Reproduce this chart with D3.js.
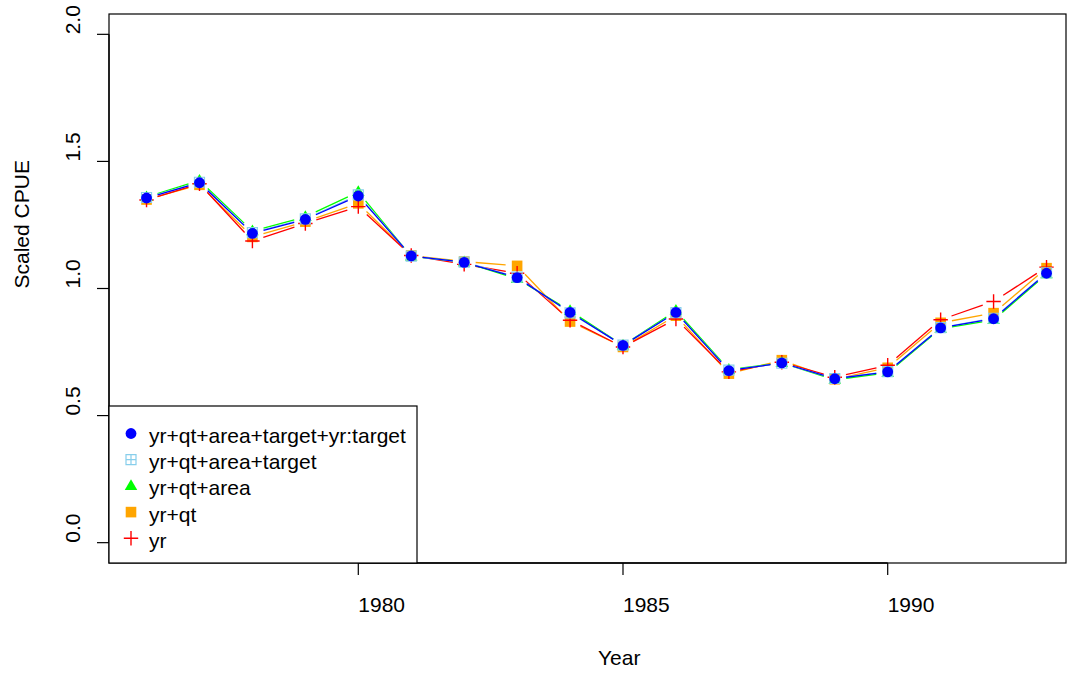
<!DOCTYPE html>
<html>
<head>
<meta charset="utf-8">
<script src="https://cdn.jsdelivr.net/npm/d3@7"></script>
<style>
  html, body { margin: 0; padding: 0; background: #fff; }
  svg { display: block; }
  text { font-family: "Liberation Sans", Arial, Helvetica, sans-serif; fill: #000; }
</style>
</head>
<body>
<svg id="chart" width="1077" height="674"></svg>
<script>
// Years of the standardised index
const years = [1976, 1977, 1978, 1979, 1980, 1981, 1982, 1983, 1984,
               1985, 1986, 1987, 1988, 1989, 1990, 1991, 1992, 1993];

// Scaled CPUE for each model formulation
const cpueFull   = [1.356, 1.416, 1.217, 1.272, 1.364, 1.128, 1.103, 1.043, 0.906,
                    0.776, 0.906, 0.677, 0.707, 0.645, 0.672, 0.845, 0.881, 1.060];
const cpueTarget = [1.358, 1.418, 1.220, 1.274, 1.368, 1.127, 1.104, 1.045, 0.904,
                    0.777, 0.905, 0.679, 0.706, 0.646, 0.673, 0.846, 0.883, 1.062];
const cpueArea   = [1.360, 1.425, 1.226, 1.282, 1.380, 1.126, 1.104, 1.038, 0.912,
                    0.776, 0.913, 0.681, 0.707, 0.641, 0.668, 0.842, 0.876, 1.056];
const cpueQt     = [1.350, 1.408, 1.203, 1.263, 1.335, 1.130, 1.106, 1.089, 0.870,
                    0.770, 0.893, 0.665, 0.718, 0.643, 0.688, 0.865, 0.903, 1.080];
const cpueYr     = [1.348, 1.412, 1.187, 1.256, 1.322, 1.130, 1.095, 1.060, 0.875,
                    0.770, 0.880, 0.672, 0.710, 0.651, 0.698, 0.877, 0.949, 1.084];

const seriesNames = ["yr+qt+area+target+yr:target", "yr+qt+area+target",
                     "yr+qt+area", "yr+qt", "yr"];
const xTicks = [1980, 1985, 1990];
const yTicks = [0.0, 0.5, 1.0, 1.5, 2.0];

// Series styling: colour and plotting symbol
const series = [
  { name: seriesNames[0], values: cpueFull,   color: "#0000FF", shape: "circle" },
  { name: seriesNames[1], values: cpueTarget, color: "#87CEEB", shape: "boxplus" },
  { name: seriesNames[2], values: cpueArea,   color: "#00FF00", shape: "triangle" },
  { name: seriesNames[3], values: cpueQt,     color: "#FFA500", shape: "square" },
  { name: seriesNames[4], values: cpueYr,     color: "#FF0000", shape: "plus" }
];
// back-to-front drawing order
const drawOrder = [3, 4, 2, 1, 0];

const svg = d3.select("#chart");
const box = { left: 109, right: 1066, top: 14, bottom: 563 };

const x = d3.scaleLinear().domain([1975.291, 1993.368]).range([box.left, box.right]);
const y = d3.scaleLinear().domain([-0.08, 2.08]).range([box.bottom, box.top]);

// Symbol drawing
function drawSymbol(g, shape, color, cx, cy) {
  if (shape === "circle") {
    g.append("circle").attr("cx", cx).attr("cy", cy).attr("r", 5.4).attr("fill", color);
  } else if (shape === "square") {
    g.append("rect").attr("x", cx - 5.3).attr("y", cy - 5.3)
      .attr("width", 10.6).attr("height", 10.6).attr("fill", color);
  } else if (shape === "triangle") {
    const r = 6.6;
    g.append("path")
      .attr("d", `M${cx},${cy - r}L${cx + r * 0.95},${cy + r * 0.62}L${cx - r * 0.95},${cy + r * 0.62}Z`)
      .attr("fill", color);
  } else if (shape === "plus") {
    const r = 7.2;
    g.append("path")
      .attr("d", `M${cx - r},${cy}H${cx + r}M${cx},${cy - r}V${cy + r}`)
      .attr("stroke", color).attr("stroke-width", 1.4).attr("fill", "none");
  } else if (shape === "boxplus") {
    const r = 5;
    g.append("path")
      .attr("d", `M${cx - r},${cy - r}h${2 * r}v${2 * r}h${-2 * r}Z` +
                 `M${cx - r},${cy}H${cx + r}M${cx},${cy - r}V${cy + r}`)
      .attr("stroke", color).attr("stroke-width", 1.2).attr("fill", "none");
  }
}

// Lines with gaps around the points, then the points themselves
const gap = 11.5;
const plotG = svg.append("g");
drawOrder.forEach(i => {
  const s = series[i];
  const g = plotG.append("g");
  const pts = years.map((yr, k) => [x(yr), y(s.values[k])]);
  for (let k = 0; k < pts.length - 1; k++) {
    const [x0, y0] = pts[k], [x1, y1] = pts[k + 1];
    const dx = x1 - x0, dy = y1 - y0, len = Math.hypot(dx, dy);
    if (len <= 2 * gap) continue;
    const ux = dx / len, uy = dy / len;
    g.append("line")
      .attr("x1", x0 + ux * gap).attr("y1", y0 + uy * gap)
      .attr("x2", x1 - ux * gap).attr("y2", y1 - uy * gap)
      .attr("stroke", s.color).attr("stroke-width", 1.3);
  }
  pts.forEach(([px, py]) => drawSymbol(g, s.shape, s.color, px, py));
});

// Plot frame
svg.append("rect")
  .attr("x", box.left).attr("y", box.top)
  .attr("width", box.right - box.left).attr("height", box.bottom - box.top)
  .attr("fill", "none").attr("stroke", "#000").attr("stroke-width", 1.2);

// Y axis
const yAxisG = svg.append("g");
yAxisG.append("line")
  .attr("x1", box.left).attr("x2", box.left)
  .attr("y1", y(yTicks[0])).attr("y2", y(yTicks[yTicks.length - 1]))
  .attr("stroke", "#000").attr("stroke-width", 1.3);
yTicks.forEach(t => {
  yAxisG.append("line")
    .attr("x1", box.left - 12).attr("x2", box.left)
    .attr("y1", y(t)).attr("y2", y(t))
    .attr("stroke", "#000").attr("stroke-width", 1.2);
  yAxisG.append("text")
    .attr("transform", `translate(80,${y(t)}) rotate(-90)`)
    .attr("text-anchor", "start")
    .attr("font-size", 21)
    .text(d3.format(".1f")(t));
});

// X axis
const xAxisG = svg.append("g");
xAxisG.append("line")
  .attr("x1", x(xTicks[0])).attr("x2", x(xTicks[xTicks.length - 1]))
  .attr("y1", box.bottom).attr("y2", box.bottom)
  .attr("stroke", "#000").attr("stroke-width", 1.3);
xTicks.forEach(t => {
  xAxisG.append("line")
    .attr("x1", x(t)).attr("x2", x(t))
    .attr("y1", box.bottom).attr("y2", box.bottom + 12)
    .attr("stroke", "#000").attr("stroke-width", 1.2);
  xAxisG.append("text")
    .attr("x", x(t)).attr("y", 612)
    .attr("text-anchor", "start")
    .attr("font-size", 21)
    .text(t);
});

// Axis titles
svg.append("text")
  .attr("x", 598).attr("y", 665)
  .attr("font-size", 21)
  .text("Year");
svg.append("text")
  .attr("transform", `translate(29,${(box.top + box.bottom) / 2}) rotate(-90)`)
  .attr("text-anchor", "start")
  .attr("font-size", 21)
  .text("Scaled CPUE");

// Legend
const legend = svg.append("g");
legend.append("rect")
  .attr("x", box.left).attr("y", 406)
  .attr("width", 417 - box.left).attr("height", box.bottom - 406)
  .attr("fill", "#fff").attr("stroke", "#000").attr("stroke-width", 1.2);
series.forEach((s, i) => {
  const cy = 433.5 + i * 26.2;
  drawSymbol(legend, s.shape, s.color, 131, cy);
  legend.append("text")
    .attr("x", 149).attr("y", cy + 9.5)
    .attr("font-size", 21)
    .text(s.name);
});
</script>
</body>
</html>
